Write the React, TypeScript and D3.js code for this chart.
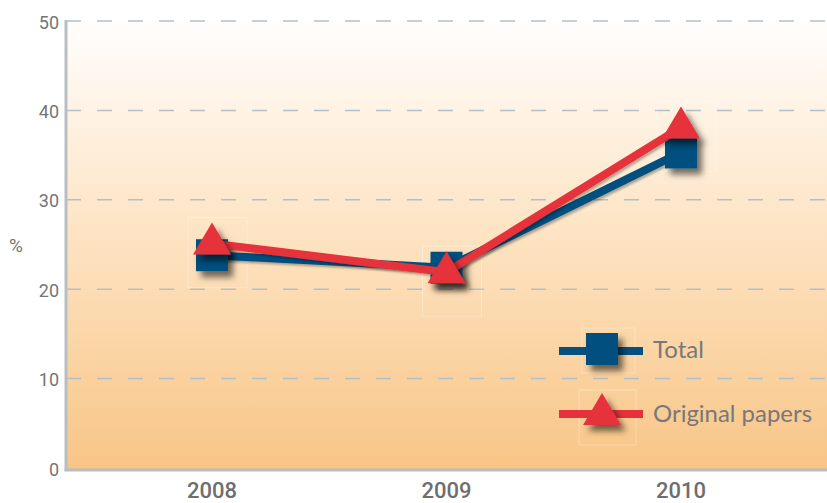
import React from "react";
import * as d3 from "d3";

const years = [2008, 2009, 2010];
const totalValues = [23.8, 22.4, 35.3];
const originalValues = [25.1, 21.9, 38.1];
const yTicks = [0, 10, 20, 30, 40, 50];
const seriesNames = ["Total", "Original papers"];

const W = 827;
const H = 503;
const BLUE = "#05507f";
const RED = "#e5313b";

export default function App() {
  const x = d3.scalePoint<number>().domain(years).range([212, 681]);
  const y = d3.scaleLinear().domain([0, 50]).range([468, 21]);
  const line = d3
    .line<number>()
    .x((_, i) => x(years[i]) as number)
    .y((d) => y(d));

  const tri = (cx: number, cy: number) =>
    `M${cx},${cy - 21} L${cx + 19},${cy + 11} L${cx - 19},${cy + 11} Z`;

  return (
    <svg
      width={W}
      height={H}
      style={{ position: "fixed", left: 0, top: 0, background: "#fff" }}
    >
      <defs>
        <linearGradient id="bg" x1="0" y1="0" x2="0" y2="1">
          <stop offset="0" stopColor="#fffefd" />
          <stop offset="0.5" stopColor="#fde2c0" />
          <stop offset="1" stopColor="#f8c586" />
        </linearGradient>
        <filter id="sh" x="-50%" y="-50%" width="200%" height="200%">
          <feDropShadow dx="5" dy="6" stdDeviation="3" floodColor="#000" floodOpacity="0.55" />
        </filter>
        <filter id="shl" x="-10%" y="-10%" width="120%" height="130%">
          <feDropShadow dx="2" dy="2" stdDeviation="1.2" floodColor="#000" floodOpacity="0.3" />
        </filter>
      </defs>
      <rect x={66} y={21} width={W - 66} height={469 - 21} fill="url(#bg)" />
      {yTicks
        .filter((t) => t > 0)
        .map((t) => (
          <line
            key={t}
            x1={66}
            x2={W}
            y1={y(t)}
            y2={y(t)}
            stroke="#b4c0c8"
            strokeWidth={1.5}
            strokeDasharray="15,16"
          />
        ))}
      <line x1={66} x2={66} y1={20} y2={471} stroke="#b8bfc3" strokeWidth={3} />
      <line x1={64.5} x2={W} y1={470} y2={470} stroke="#b8bfc3" strokeWidth={3} />
      {yTicks.map((t) => (
        <text
          key={t}
          x={59}
          y={y(t) + 1}
          textAnchor="end"
          dominantBaseline="central"
          fontFamily="Roboto"
          fontSize={18}
          fill="#757575"
        >
          {t}
        </text>
      ))}
      <text x={16} y={245} textAnchor="middle" dominantBaseline="central" fontFamily="Roboto" fontSize={19} fill="#757575">
        %
      </text>
      {years.map((yr) => (
        <text
          key={yr}
          x={x(yr) as number}
          y={498}
          textAnchor="middle"
          fontFamily="Roboto"
          fontWeight={500}
          fontSize={22}
          fill="#6e6e6e"
        >
          {yr}
        </text>
      ))}

      {/* faint marker boxes */}
      {years.map((yr, i) => (
        <g key={"b" + yr} fill="none" stroke="#ffffff" strokeOpacity={0.3}>
          <rect x={(x(yr) as number) - 24} y={y(originalValues[i]) - 26} width={59} height={70} />
        </g>
      ))}

      {/* Total series */}
      <path d={line(totalValues) || ""} fill="none" stroke={BLUE} strokeWidth={8} filter="url(#shl)" />
      {years.map((yr, i) => (
        <rect
          key={"s" + yr}
          x={(x(yr) as number) - 16}
          y={y(totalValues[i]) - 16}
          width={32}
          height={32}
          fill={BLUE}
          filter="url(#sh)"
        />
      ))}
      {/* Original papers series */}
      <path d={line(originalValues) || ""} fill="none" stroke={RED} strokeWidth={8} filter="url(#shl)" />
      {years.map((yr, i) => (
        <path key={"t" + yr} d={tri(x(yr) as number, y(originalValues[i]))} fill={RED} filter="url(#sh)" />
      ))}

      {/* Legend */}
      <g>
        <rect x={582} y={328} width={53} height={45} fill="none" stroke="#fff" strokeOpacity={0.3} />
        <line x1={559} x2={643} y1={351} y2={351} stroke={BLUE} strokeWidth={8} />
        <rect x={586} y={333} width={32} height={32} fill={BLUE} filter="url(#sh)" />
        <text x={653} y={358} fontFamily="Lato" fontSize={24} fill="#787878">
          {seriesNames[0]}
        </text>
        <rect x={579} y={390} width={57} height={55} fill="none" stroke="#fff" strokeOpacity={0.3} />
        <line x1={559} x2={643} y1={414} y2={414} stroke={RED} strokeWidth={8} />
        <path d={tri(602, 414)} fill={RED} filter="url(#sh)" />
        <text x={653} y={422} fontFamily="Lato" fontSize={24} fill="#787878" textLength={159} lengthAdjust="spacingAndGlyphs">
          {seriesNames[1]}
        </text>
      </g>
    </svg>
  );
}
